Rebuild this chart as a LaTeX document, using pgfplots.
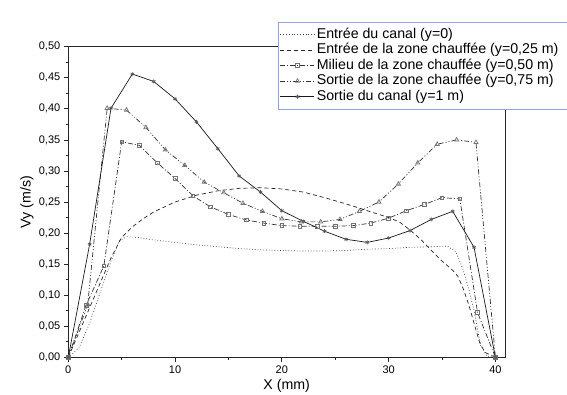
\documentclass[border=0pt]{standalone}
\usepackage{fontspec}
\setmainfont{Liberation Sans}
\usepackage{pgfplots}
\pgfplotsset{compat=1.18}
\begin{document}
\begin{tikzpicture}
\useasboundingbox (-68.3pt,-36.7pt) rectangle (498.7pt,357.3pt);
\begin{axis}[
  at={(0pt,0pt)}, anchor=south west,
  scale only axis, width=436.7pt, height=310.6pt,
  xmin=0, xmax=40.9, ymin=0, ymax=0.5,
  xtick={0,10,20,30,40}, minor x tick num=1,
  ytick={0,0.05,0.10,0.15,0.20,0.25,0.30,0.35,0.40,0.45,0.50}, minor y tick num=1,
  tick align=outside, xtick pos=bottom, ytick pos=left,
  major tick length=4.5pt, minor tick length=2.5pt,
  axis line style={line width=0.9pt, black!85},
  tick style={black!85, line width=0.7pt},
  ticklabel style={font=\fontsize{11}{13}\selectfont},
  /pgf/number format/assume math mode=true,
  yticklabel style={/pgf/number format/.cd, fixed, fixed zerofill, precision=2, use comma},
  xlabel={X (mm)}, ylabel={Vy (m/s)},
  label style={font=\fontsize{14.2}{16}\selectfont},
  xlabel style={at={(axis description cs:0.5,-0.0924)}, anchor=center},
  ylabel style={at={(axis description cs:-0.0946,0.5)}, anchor=center},
  legend style={at={(0.480,1.079)}, anchor=north west,
    draw={rgb,255:red,150;green,160;blue,230}, fill=white,
    font=\fontsize{14.2}{15}\selectfont, row sep=0pt, inner xsep=2pt, inner ysep=4.5pt,
    nodes={font=\fontsize{14.2}{15}\selectfont, inner ysep=1pt, inner xsep=2pt, text height=10.5pt, text depth=3pt}},
  legend cell align=left,
  legend image code/.code={\draw[mark repeat=2,mark phase=2,#1] plot coordinates {(0pt,0pt) (17pt,0pt) (34pt,0pt)};},
]
\addplot[black!75, line width=0.7pt, dash pattern=on 0.8pt off 2pt] coordinates {
(0,0)(1,0.015)(2,0.055)(3,0.105)(4,0.155)(4.8,0.188)(5.5,0.194)(6.5,0.193)(8,0.189)(10,0.185)(12,0.181)(14,0.178)(16,0.175)(18,0.173)(20,0.172)(22,0.171)(24,0.171)(26,0.172)(28,0.174)(30,0.175)(32,0.177)(34,0.178)(35.5,0.179)(36.3,0.17)(37,0.14)(37.5,0.11)(38,0.075)(38.6,0.02)(39.2,0.002)(40,0)};
\addlegendentry{\makebox[255pt][l]{Entrée du canal (y=0)}}
\addplot[black!85, line width=0.7pt, dash pattern=on 4pt off 3pt] coordinates {
(0,0)(1,0.04)(2,0.08)(3,0.12)(4,0.16)(5,0.193)(6,0.21)(7,0.223)(8,0.234)(10,0.25)(12,0.261)(14,0.268)(16,0.272)(18,0.273)(20,0.271)(22,0.266)(24,0.257)(26,0.247)(28,0.236)(30,0.225)(31,0.218)(32,0.205)(33,0.19)(34,0.172)(35,0.155)(36,0.14)(36.5,0.13)(37,0.11)(37.5,0.085)(38,0.055)(38.5,0.025)(39,0.008)(40,0)};
\addlegendentry{Entrée de la zone chauffée (y=0,25 m)}
\addplot[black!80, line width=0.7pt, dash pattern=on 5pt off 2pt on 1pt off 2pt, mark=square, mark size=1.8pt, mark options={solid, black!55, fill=white}] coordinates {
(0,0)(1.67,0.084)(3.33,0.147)(5,0.347)(6.67,0.341)(8.33,0.313)(10,0.288)(11.67,0.26)(13.33,0.242)(15,0.23)(16.67,0.221)(18.33,0.216)(20,0.212)(21.67,0.211)(23.33,0.211)(25,0.211)(26.67,0.212)(28.33,0.216)(30,0.224)(31.67,0.236)(33.33,0.246)(35,0.257)(36.67,0.255)(38.33,0.072)(40,0)};
\addlegendentry{Milieu de la zone chauffée (y=0,50 m)}
\addplot[black!80, line width=0.7pt, dash pattern=on 5pt off 2pt on 1pt off 2pt on 1pt off 2pt, mark=triangle, mark size=2.4pt, mark options={solid, black!55, fill=white}] coordinates {
(0,0)(1.82,0.085)(3.64,0.401)(5.45,0.398)(7.27,0.370)(9.09,0.334)(10.91,0.309)(12.73,0.282)(14.55,0.265)(16.36,0.248)(18.18,0.235)(20,0.223)(21.82,0.218)(23.64,0.218)(25.45,0.222)(27.27,0.235)(29.09,0.25)(30.91,0.279)(32.73,0.313)(34.55,0.343)(36.36,0.350)(38.18,0.346)(40,0)};
\addlegendentry{Sortie de la zone chauffée (y=0,75 m)}
\addplot[black!90, line width=0.7pt, mark=asterisk, mark size=2pt, mark options={solid, black!65}] coordinates {
(0,0)(2,0.182)(4,0.401)(6,0.456)(8,0.444)(10,0.416)(12,0.379)(14,0.336)(16,0.292)(18,0.266)(20,0.236)(22,0.219)(24,0.203)(26,0.19)(28,0.185)(30,0.192)(32,0.204)(34,0.222)(36,0.235)(38,0.177)(40,0)};
\addlegendentry{Sortie du canal (y=1 m)}
\end{axis}
\end{tikzpicture}
\end{document}
